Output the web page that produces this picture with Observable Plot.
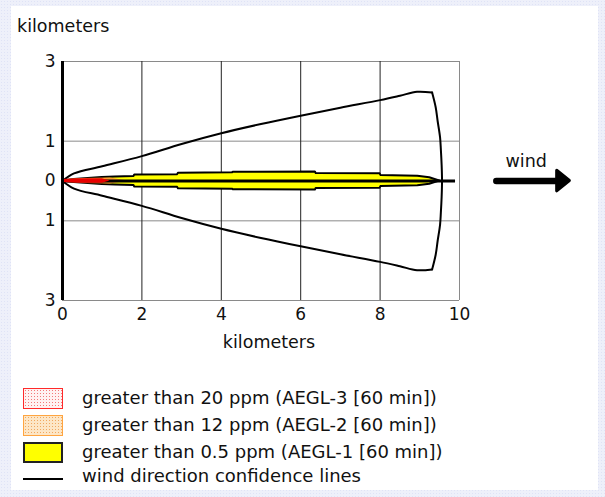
<!DOCTYPE html>
<html>
<head>
<meta charset="utf-8">
<script src="https://cdn.jsdelivr.net/npm/d3@7"></script>
<script src="https://cdn.jsdelivr.net/npm/@observablehq/plot@0.6"></script>
<style>
html, body { margin: 0; padding: 0; }
body { width: 605px; height: 497px; position: relative; overflow: hidden;
  background-color: #eef0fa;
  background-image: radial-gradient(#dfe3f6 0.8px, transparent 1px);
  background-size: 3px 3px;
  font-family: "DejaVu Sans", Verdana, sans-serif; color: #111; }
#panel { position: absolute; left: 11px; top: 6px; width: 587px; height: 484px; background: #fff; }
#title { position: absolute; left: 17px; top: 18px; font-size: 17.5px; line-height: 17.5px; }
#chart { position: absolute; left: 11px; top: 40px; }
.sw { position: absolute; left: 23px; width: 40px; height: 21px; box-sizing: border-box; }
.lt { position: absolute; left: 82px; font-size: 18px; line-height: 18px; white-space: nowrap; }
</style>
</head>
<body>
<div id="panel"></div>
<div id="title">kilometers</div>
<div id="chart"></div>
<div id="legend"></div>
<script>
// ---- data (km) ----
const xTicks = [0, 2, 4, 6, 8, 10];
const yTicks = [-3, -1, 0, 1, 3];
const yGrid = [3, 1, -1, -3];
const xGrid = [2, 4, 6, 8];
const xEdge = [10];

// AEGL-1 plume (yellow): downwind distance and half-width
const plumeX    = [0, 0.3, 0.65, 1.0, 1.33, 1.8, 1.82, 2.9, 2.92, 4.28, 4.3, 6.37, 6.39, 8.0, 8.02, 8.95, 9.25, 9.5];
const plumeHalf = [0, 0.04, 0.065, 0.085, 0.1, 0.115, 0.15, 0.16, 0.195, 0.205, 0.22, 0.225, 0.19, 0.18, 0.14, 0.12, 0.08, 0];
// AEGL-2 (orange)
const orangeX    = [0, 0.5, 1.2, 1.65];
const orangeHalf = [0.03, 0.065, 0.075, 0];
// AEGL-3 (red)
const redX    = [0, 0.4, 1.0, 1.2];
const redHalf = [0.035, 0.055, 0.055, 0];

// wind direction confidence lines
const confUpperX = [0, 0.29, 1, 2, 3, 4, 5, 6, 7, 8, 8.5, 8.93, 9.31];
const confUpperY = [0, 0.19, 0.37, 0.625, 0.93, 1.2, 1.43, 1.64, 1.84, 2.03, 2.14, 2.24, 2.22];
const confLowerX = [0, 0.29, 1, 2, 3, 4, 5, 6, 7, 8, 8.5, 8.93, 9.31];
const confLowerY = [0, -0.19, -0.37, -0.625, -0.93, -1.2, -1.43, -1.64, -1.84, -2.03, -2.14, -2.24, -2.22];
const confArcX = [9.31, 9.4, 9.45, 9.51, 9.53, 9.55, 9.56, 9.55, 9.53, 9.51, 9.45, 9.4, 9.31];
const confArcY = [2.22, 1.85, 1.5, 1.1, 0.8, 0.4, 0, -0.4, -0.8, -1.1, -1.5, -1.85, -2.22];

const centerLineEnd = 9.9;

// wind arrow (km units, right of the plot)
const windShaft = [{x1: 10.94, x2: 12.5}];
const windHeadX = [12.46, 12.78];
const windHeadHalf = [0.26, 0];
const windLabel = [{x: 11.68, y: 0.49, text: "wind"}];

// legend
const legendLabels = [
  "greater than 20 ppm (AEGL-3 [60 min])",
  "greater than 12 ppm (AEGL-2 [60 min])",
  "greater than 0.5 ppm (AEGL-1 [60 min])",
  "wind direction confidence lines"
];

// ---- tables ----
const plume = plumeX.map((x, i) => ({x, lo: -plumeHalf[i], hi: plumeHalf[i]}));
const orange = orangeX.map((x, i) => ({x, lo: -orangeHalf[i], hi: orangeHalf[i]}));
const red = redX.map((x, i) => ({x, lo: -redHalf[i], hi: redHalf[i]}));
const upper = confUpperX.map((x, i) => ({x, y: confUpperY[i]}));
const lower = confLowerX.map((x, i) => ({x, y: confLowerY[i]}));
const arc = confArcX.map((x, i) => ({x, y: confArcY[i]}));
const windHead = windHeadX.map((x, i) => ({x, lo: -windHeadHalf[i], hi: windHeadHalf[i]}));

const confStyle = {x: "x", y: "y", stroke: "black", strokeWidth: 2, strokeLinejoin: "round", strokeLinecap: "round", curve: "catmull-rom"};

const chart = Plot.plot({
  width: 587, height: 325,
  marginLeft: 51, marginRight: 139, marginTop: 21, marginBottom: 65,
  x: {domain: [0, 10]},
  y: {domain: [-3, 3]},
  style: {fontFamily: "DejaVu Sans, Verdana, sans-serif", fontSize: "17px", color: "#111", background: "transparent", overflow: "visible"},
  marks: [
    Plot.ruleY(yGrid, {stroke: "#8a8a8a", strokeWidth: 1}),
    Plot.ruleX(xGrid, {stroke: "#222", strokeWidth: 1}),
    Plot.ruleX(xEdge, {stroke: "#8a8a8a", strokeWidth: 1}),
    Plot.line(upper, confStyle),
    Plot.line(lower, confStyle),
    Plot.line(arc, confStyle),
    Plot.areaY(plume, {x: "x", y1: "lo", y2: "hi", fill: "#ffff00", stroke: "black", strokeWidth: 2}),
    Plot.areaY(orange, {x: "x", y1: "lo", y2: "hi", fill: "#ff9a2a"}),
    Plot.ruleY([0], {x1: 0, x2: centerLineEnd, stroke: "black", strokeWidth: 3}),
    Plot.areaY(red, {x: "x", y1: "lo", y2: "hi", fill: "#e80000"}),
    Plot.ruleX([0], {stroke: "black", strokeWidth: 3}),
    Plot.axisX(xTicks, {tickSize: 0, tickPadding: 7, label: null}),
    Plot.axisY(yTicks, {tickSize: 0, tickPadding: 7, tickFormat: d => Math.abs(d), label: null}),
    Plot.text(["kilometers"], {frameAnchor: "bottom", text: d => d, dx: 8, dy: 47, fontSize: 17.5}),
    // wind arrow
    Plot.ruleY(windShaft, {y: 0, x1: "x1", x2: "x2", stroke: "black", strokeWidth: 6.5, strokeLinecap: "round"}),
    Plot.areaY(windHead, {x: "x", y1: "lo", y2: "hi", fill: "black", stroke: "black", strokeWidth: 3, strokeLinejoin: "round"}),
    Plot.text(windLabel, {x: "x", y: "y", text: "text", fontSize: 17.5})
  ]
});
document.getElementById("chart").appendChild(chart);

// legend
const legend = document.getElementById("legend");
const swatchTops = [388, 415, 442, 478];
const textTops = [388.5, 415.5, 442.5, 466.5];
const swatchStyles = [
  "border:1.5px solid #ff2a2a;background-color:#fff2f2;background-image:radial-gradient(#f27a7a 0.7px, transparent 0.9px);background-size:3px 3px;",
  "border:1.5px solid #ffa540;background-color:#fde6c6;background-image:radial-gradient(#f0a860 0.8px, transparent 1px);background-size:3px 3px;",
  "border:2px solid #222;background:#ffff00;",
  "height:1.5px;background:#000;border:none;"
];
legendLabels.forEach((label, i) => {
  const sw = document.createElement("div");
  sw.className = "sw";
  sw.style.cssText = swatchStyles[i];
  sw.style.top = swatchTops[i] + "px";
  legend.appendChild(sw);
  const t = document.createElement("div");
  t.className = "lt";
  t.style.top = textTops[i] + "px";
  t.textContent = label;
  legend.appendChild(t);
});
</script>
</body>
</html>
